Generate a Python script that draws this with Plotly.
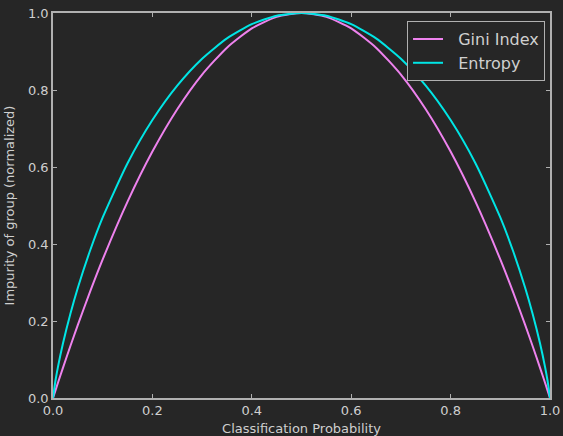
import plotly.graph_objects as go

p = [0.0, 0.005, 0.01, 0.02, 0.035, 0.05, 0.075, 0.1, 0.15, 0.2, 0.25, 0.3, 0.35, 0.4, 0.45, 0.5,
     0.55, 0.6, 0.65, 0.7, 0.75, 0.8, 0.85, 0.9, 0.925, 0.95, 0.965, 0.98, 0.99, 0.995, 1.0]
gini = [0.0, 0.0199, 0.0396, 0.0784, 0.1351, 0.19, 0.2775, 0.36, 0.51, 0.64, 0.75, 0.84, 0.91, 0.96, 0.99, 1.0,
        0.99, 0.96, 0.91, 0.84, 0.75, 0.64, 0.51, 0.36, 0.2775, 0.19, 0.1351, 0.0784, 0.0396, 0.0199, 0.0]
entropy = [0.0, 0.0454, 0.0808, 0.1414, 0.2189, 0.2864, 0.3843, 0.469, 0.6098, 0.7219, 0.8113, 0.8813, 0.9341, 0.971, 0.9928, 1.0,
           0.9928, 0.971, 0.9341, 0.8813, 0.8113, 0.7219, 0.6098, 0.469, 0.3843, 0.2864, 0.2189, 0.1414, 0.0808, 0.0454, 0.0]
ticks = [0.0, 0.2, 0.4, 0.6, 0.8, 1.0]
tick_text = ["0.0", "0.2", "0.4", "0.6", "0.8", "1.0"]

bg = "#262626"
fg = "#cfcfcf"
frame = "#b0b0b0"

fig = go.Figure()
fig.add_trace(go.Scatter(x=p, y=gini, mode="lines", name="\u00a0\u00a0Gini Index",
                         line=dict(color="#ee82ee", width=2, shape="spline", smoothing=0.6)))
fig.add_trace(go.Scatter(x=p, y=entropy, mode="lines", name="\u00a0\u00a0Entropy",
                         line=dict(color="#00e5e5", width=2, shape="spline", smoothing=0.6)))

axis_common = dict(range=[0, 1], tickvals=ticks, ticktext=tick_text, ticks="inside", ticklen=4,
                   tickcolor=frame, showline=True, linecolor=frame, linewidth=1.5, mirror="allticks",
                   showgrid=False, zeroline=False, automargin=False,
                   tickfont=dict(color=fg, size=13, family="DejaVu Sans"))
fig.update_xaxes(**axis_common, title=dict(text="Classification Probability", standoff=12,
                 font=dict(color=fg, size=13, family="DejaVu Sans")))
fig.update_yaxes(**axis_common, title=dict(text="Impurity of group (normalized)", standoff=10,
                 font=dict(color=fg, size=13, family="DejaVu Sans")))

fig.update_layout(
    width=563, height=436,
    margin=dict(l=53, r=13, t=13, b=38),
    paper_bgcolor=bg, plot_bgcolor=bg,
    showlegend=True,
    legend=dict(x=0.99, y=0.979, xanchor="right", yanchor="top",
                bgcolor=bg, bordercolor=frame, borderwidth=1,
                font=dict(color=fg, size=16, family="DejaVu Sans")),
)

fig.write_html("out.html")
